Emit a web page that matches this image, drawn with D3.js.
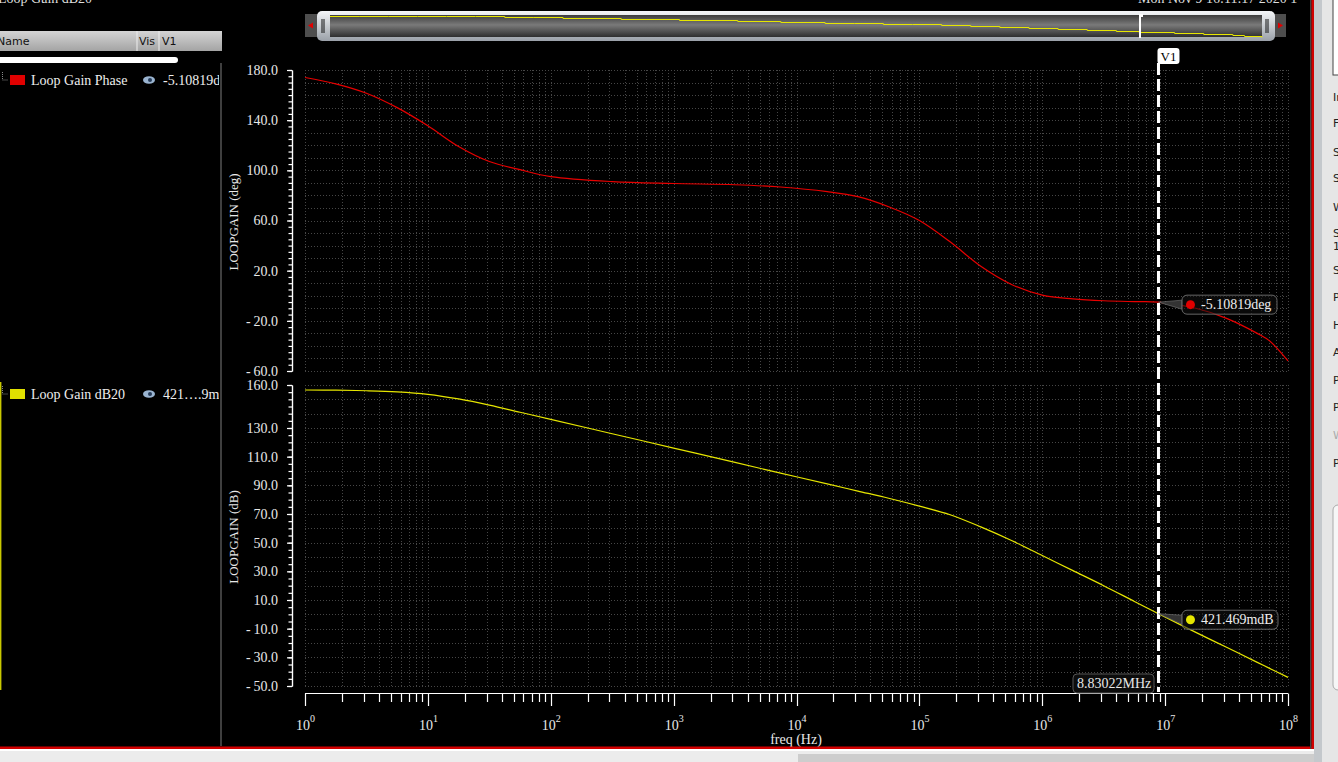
<!DOCTYPE html>
<html>
<head>
<meta charset="utf-8">
<script src="https://cdn.jsdelivr.net/npm/d3@7"></script>
<style>
  body { margin: 0; background: #000; overflow: hidden; }
  text { font-family: "Liberation Serif", "DejaVu Serif", serif; }
</style>
</head>
<body>
<div id="chart"></div>
<script>
var width = 1338,
    height = 762;

// values
var freqHz = [1, 1.778, 3.162, 5.623, 10, 17.78, 31.62, 56.23, 100, 316.2, 1000, 3162, 7413,
  17780, 31620, 56230, 1e5, 1.778e5, 3.162e5, 5.623e5, 1e6, 1.778e6, 3.162e6, 5.623e6,
  8.83022e6, 1.778e7, 3.162e7, 5.623e7, 7.079e7, 1e8];
var phaseDeg = [174, 169, 161.5, 150, 135.5, 119, 107, 100.5, 95, 91, 89.5, 88.5, 86.7,
  83, 79, 71, 60, 43, 23.5, 9, 0.5, -2.5, -4, -4.7, -5.1, -10, -18, -30, -36, -52];
var gainDb = [156.5, 156.4, 156, 155.2, 153.5, 150.3, 146, 141, 136, 126, 116, 106, 98.5,
  91, 86, 81, 75.5, 69.5, 61, 51.5, 41, 30.5, 20, 9, 0.42, -12.6, -23, -33.5, -37.7, -44];

var phaseTicks = [180, 140, 100, 60, 20, -20, -60];
var gainTicks = [160, 130, 110, 90, 70, 50, 30, 10, -10, -30, -50];
var decades = [0, 1, 2, 3, 4, 5, 6, 7, 8];

var cursorFreq = 8.83022e6,
    cursorLabel = "8.83022MHz",
    phaseAtCursor = -5.10819,
    gainAtCursor = 0.421469,
    phaseReadout = "-5.10819deg",
    gainReadout = "421.469mdB";

var sideRows = [["In", 97], ["F", 123], ["S", 152], ["S", 178], ["W", 207], ["S", 233], ["1", 246],
  ["S", 270], ["P", 297], ["H", 325], ["A", 352], ["P", 380], ["P", 407], ["W", 435], ["P", 463]];

var svg = d3.select("#chart").append("svg")
    .attr("width", width)
    .attr("height", height);

svg.append("rect").attr("width", width).attr("height", height).attr("fill", "#000");

var defs = svg.append("defs");
var g1 = defs.append("linearGradient").attr("id", "hdr").attr("x1", 0).attr("x2", 0).attr("y1", 0).attr("y2", 1);
g1.append("stop").attr("offset", "0%").attr("stop-color", "#d4d4d4");
g1.append("stop").attr("offset", "100%").attr("stop-color", "#a4a4a4");
var g2 = defs.append("linearGradient").attr("id", "scr").attr("x1", 0).attr("x2", 0).attr("y1", 0).attr("y2", 1);
g2.append("stop").attr("offset", "0%").attr("stop-color", "#3c3c3c");
g2.append("stop").attr("offset", "45%").attr("stop-color", "#7a7a7a");
g2.append("stop").attr("offset", "100%").attr("stop-color", "#2e2e2e");
var g3 = defs.append("linearGradient").attr("id", "frm").attr("x1", 0).attr("x2", 0).attr("y1", 0).attr("y2", 1);
g3.append("stop").attr("offset", "0%").attr("stop-color", "#f4f6f8");
g3.append("stop").attr("offset", "100%").attr("stop-color", "#9aa0a8");

var x = d3.scaleLog().domain([1, 1e8]).range([305, 1288]);
var yPhase = d3.scaleLinear().domain([-60, 180]).range([371, 70]);
var yGain = d3.scaleLinear().domain([-50, 160]).range([686, 385]);

// ---- left legend panel
svg.append("text").attr("x", -2).attr("y", 3).attr("fill", "#ddd").style("font-size", "14px").text("Loop Gain dB20");
svg.append("rect").attr("x", 0).attr("y", 31).attr("width", 222).attr("height", 20).attr("fill", "url(#hdr)");
[137, 159].forEach(function(s) {
  svg.append("line").attr("x1", s).attr("x2", s).attr("y1", 31).attr("y2", 51).attr("stroke", "#eee");
});
var hdr = svg.append("g").style("font-size", "11px").attr("fill", "#111");
hdr.append("text").attr("x", -3).attr("y", 45).style("font-family", "DejaVu Sans").text("Name");
hdr.append("text").attr("x", 139).attr("y", 45).style("font-family", "DejaVu Sans").text("Vis");
hdr.append("text").attr("x", 162).attr("y", 45).style("font-family", "DejaVu Sans").text("V1");
svg.append("rect").attr("x", -4).attr("y", 57).attr("width", 182).attr("height", 6).attr("rx", 3).attr("fill", "#fff");
svg.append("line").attr("x1", 221).attr("x2", 221).attr("y1", 63).attr("y2", 746).attr("stroke", "#555").attr("stroke-width", 1.5);
svg.append("line").attr("x1", 0.7).attr("x2", 0.7).attr("y1", 382).attr("y2", 690).attr("stroke", "#c8c800").attr("stroke-width", 1.4);

var legendRows = [
  { name: "Loop Gain Phase", color: "#e00000", val: "-5.10819deg", y: 80 },
  { name: "Loop Gain dB20", color: "#e0e000", val: "421\u2026.9mdB", y: 394 }
];
var clipL = defs.append("clipPath").attr("id", "clipL");
clipL.append("rect").attr("x", 0).attr("y", 0).attr("width", 219).attr("height", 762);
var rows = svg.append("g").attr("clip-path", "url(#clipL)").selectAll("g").data(legendRows).enter().append("g");
rows.append("path")
    .attr("d", function(d) { return "M2.5," + (d.y - 8) + "V" + (d.y) + "H8"; })
    .attr("fill", "none").attr("stroke", "#888").attr("stroke-dasharray", "1,1");
rows.append("rect").attr("x", 10).attr("y", function(d) { return d.y - 5; })
    .attr("width", 15).attr("height", 10).attr("fill", function(d) { return d.color; });
rows.append("text").attr("x", 31).attr("y", function(d) { return d.y + 5; })
    .attr("fill", "#eee").style("font-size", "14px").text(function(d) { return d.name; });
rows.append("ellipse").attr("cx", 149).attr("cy", function(d) { return d.y; })
    .attr("rx", 6).attr("ry", 3.8).attr("fill", "#9ab4d0");
rows.append("circle").attr("cx", 150).attr("cy", function(d) { return d.y; }).attr("r", 2).attr("fill", "#243a58");
rows.append("text").attr("x", 163).attr("y", function(d) { return d.y + 5; })
    .attr("fill", "#eee").style("font-size", "14px").text(function(d) { return d.val; });

// ---- top scrollbar
svg.append("text").attr("x", 1138).attr("y", 3).attr("fill", "#ddd").style("font-size", "14px").text("Mon Nov 9 16:11:17 2020  1");
svg.append("rect").attr("x", 305).attr("y", 14).attr("width", 14).attr("height", 23).attr("fill", "#4e4e4e");
svg.append("path").attr("d", "M308,25.5L313,22.5V28.5Z").attr("fill", "#e00000");
svg.append("rect").attr("x", 1272).attr("y", 14).attr("width", 14).attr("height", 23).attr("fill", "#4e4e4e");
svg.append("path").attr("d", "M1283,25.5L1278,22.5V28.5Z").attr("fill", "#e00000");
svg.append("rect").attr("x", 317).attr("y", 11).attr("width", 958).attr("height", 30).attr("rx", 5).attr("fill", "url(#frm)");
svg.append("rect").attr("x", 330).attr("y", 15).attr("width", 932).attr("height", 22).attr("fill", "url(#scr)");
[[322, 324], [1266, 1268]].forEach(function(p) {
  p.forEach(function(px) {
    svg.append("line").attr("x1", px).attr("x2", px).attr("y1", 19).attr("y2", 33).attr("stroke", "#111").attr("stroke-width", 1);
  });
});
var xs = d3.scaleLog().domain([1, 1e8]).range([330, 1262]);
var ys = d3.scaleLinear().domain([-44, 157]).range([36.5, 15.7]);
svg.append("path")
    .datum(freqHz)
    .attr("d", d3.line().curve(d3.curveStepAfter)
      .x(function(d) { return xs(d); })
      .y(function(d, i) { return Math.round(ys(gainDb[i])) + 0.5; }))
    .attr("fill", "none").attr("stroke", "#e6e600").attr("stroke-width", 1);
svg.append("line").attr("x1", 1140).attr("x2", 1140).attr("y1", 15).attr("y2", 38).attr("stroke", "#fff").attr("stroke-width", 2);
svg.append("rect").attr("x", 1139).attr("y", 14).attr("width", 4).attr("height", 3).attr("fill", "#fff");

// ---- grids
function drawGrid(yScale, lo, hi, step) {
  var g = svg.append("g").attr("stroke", "#464646").attr("stroke-dasharray", "1,2").attr("stroke-width", 1);
  var vals = d3.range(lo, hi + 0.01, step);
  g.selectAll(".h").data(vals).enter().append("line")
      .attr("x1", 305).attr("x2", 1288)
      .attr("y1", function(d) { return Math.round(yScale(d)) + 0.5; })
      .attr("y2", function(d) { return Math.round(yScale(d)) + 0.5; });
  var vx = [];
  decades.forEach(function(dk) {
    for (var m = 1; m < 10; m++) { if (dk < 8 || m == 1) vx.push(m * Math.pow(10, dk)); }
  });
  g.selectAll(".v").data(vx).enter().append("line")
      .attr("y1", yScale.range()[1]).attr("y2", yScale.range()[0])
      .attr("x1", function(d) { return Math.round(x(d)) + 0.5; })
      .attr("x2", function(d) { return Math.round(x(d)) + 0.5; });
}
drawGrid(yPhase, -60, 180, 10);
drawGrid(yGain, -50, 160, 10);

// ---- y axes
function fmt(d) { return d < 0 ? "-\u2009" + (-d).toFixed(1) : d.toFixed(1); }
function drawYAxis(yScale, lo, hi, majors, title, cy) {
  var minor = svg.append("g").attr("transform", "translate(292,0)")
      .call(d3.axisLeft(yScale).tickValues(d3.range(lo, hi + 0.01, 5)).tickSize(3.5).tickSizeOuter(0).tickFormat(""));
  var major = svg.append("g").attr("transform", "translate(292,0)")
      .call(d3.axisLeft(yScale).tickValues(majors).tickSize(5).tickSizeOuter(0).tickPadding(9).tickFormat(fmt));
  [minor, major].forEach(function(a) {
    a.selectAll("path, line").attr("stroke", "#fff").attr("stroke-width", 1.2);
  });
  major.selectAll("text").attr("fill", "#e8e8e8")
      .style("font-family", "Liberation Serif, serif").style("font-size", "14px");
  svg.append("text").attr("transform", "translate(238," + cy + ")rotate(-90)")
      .attr("text-anchor", "middle").attr("fill", "#e8e8e8").style("font-size", "13px").text(title);
}
drawYAxis(yPhase, -60, 180, phaseTicks, "LOOPGAIN (deg)", 222);
drawYAxis(yGain, -50, 160, gainTicks, "LOOPGAIN (dB)", 537);

// ---- x axis
var xa = svg.append("g").attr("stroke", "#fff").attr("stroke-width", 1.2);
xa.append("line").attr("x1", 305).attr("x2", 1288).attr("y1", 693.5).attr("y2", 693.5);
decades.forEach(function(dk) {
  for (var m = 1; m < 10; m++) {
    if (dk == 8 && m > 1) break;
    var px = Math.round(x(m * Math.pow(10, dk))) + 0.5;
    xa.append("line").attr("x1", px).attr("x2", px).attr("y1", 693.5).attr("y2", m == 1 ? 706 : 702);
  }
});
var xl = svg.append("g").selectAll("text").data(decades).enter().append("text")
    .attr("x", function(d) { return x(Math.pow(10, d)) - 9; })
    .attr("y", 730).attr("fill", "#e8e8e8").style("font-size", "14px");
xl.append("tspan").text("10");
xl.append("tspan").attr("dy", -8).style("font-size", "10px").text(function(d) { return d; });
svg.append("text").attr("x", 796).attr("y", 744).attr("text-anchor", "middle")
    .attr("fill", "#e8e8e8").style("font-size", "14px").text("freq (Hz)");

// ---- curves
var line = d3.line().curve(d3.curveCatmullRom.alpha(0.5)).x(function(d) { return x(d[0]); }).y(function(d) { return d[1]; });
svg.append("path")
    .datum(freqHz.map(function(f, i) { return [f, yPhase(phaseDeg[i])]; }))
    .attr("d", line).attr("fill", "none").attr("stroke", "#e80000").attr("stroke-width", 1.2);
svg.append("path")
    .datum(freqHz.map(function(f, i) { return [f, yGain(gainDb[i])]; }))
    .attr("d", line).attr("fill", "none").attr("stroke", "#e6e600").attr("stroke-width", 1.2);

// ---- cursor V1
var cx = x(cursorFreq);
svg.append("line").attr("x1", cx).attr("x2", cx).attr("y1", 63).attr("y2", 692)
    .attr("stroke", "#fff").attr("stroke-width", 3).attr("stroke-dasharray", "12,4");
svg.append("rect").attr("x", cx - 1).attr("y", 48).attr("width", 22).attr("height", 16).attr("rx", 3).attr("fill", "#fff");
svg.append("text").attr("x", cx + 10).attr("y", 61).attr("text-anchor", "middle").attr("fill", "#000")
    .style("font-size", "13px").text("V1");
svg.append("rect").attr("x", 1073).attr("y", 674).attr("width", 81).attr("height", 19).attr("rx", 4)
    .attr("fill", "#0c0c0c").attr("stroke", "#555");
svg.append("text").attr("x", 1077).attr("y", 688).attr("fill", "#e8e8e8").style("font-size", "14px").text(cursorLabel);

var readouts = [
  { y: yPhase(phaseAtCursor), top: yPhase(phaseAtCursor) - 7, color: "#e00000", text: phaseReadout, w: 95 },
  { y: yGain(gainAtCursor), top: yGain(gainAtCursor) - 3.5, color: "#e6e600", text: gainReadout, w: 96 }
];
readouts.forEach(function(r) {
  var bx = cx + 23.5;
  svg.append("path")
      .attr("d", "M" + cx + "," + r.y + "L" + bx + "," + (r.top + 5) + "L" + bx + "," + (r.top + 14) + "Z")
      .attr("fill", "#333").attr("stroke", "#777").attr("stroke-width", 0.6);
  svg.append("rect").attr("x", bx).attr("y", r.top).attr("width", r.w).attr("height", 19).attr("rx", 5)
      .attr("fill", "rgba(16,16,16,0.55)").attr("stroke", "#666");
  svg.append("circle").attr("cx", bx + 8.5).attr("cy", r.top + 9.5).attr("r", 4.5).attr("fill", r.color);
  svg.append("text").attr("x", bx + 19).attr("y", r.top + 14).attr("fill", "#eee").style("font-size", "14px").text(r.text);
});

// ---- window frame and right panel
svg.append("rect").attr("x", 0).attr("y", 746.5).attr("width", 1316).attr("height", 2.5).attr("fill", "#d00000");
svg.append("rect").attr("x", 0).attr("y", 749).attr("width", width).attr("height", 13).attr("fill", "#ececec");
svg.append("rect").attr("x", 0).attr("y", 749).attr("width", 1316).attr("height", 2).attr("fill", "#fff");
svg.append("rect").attr("x", 798).attr("y", 754).attr("width", 540).attr("height", 8).attr("fill", "#cdcdcd");
svg.append("rect").attr("x", 1310).attr("y", 0).attr("width", 1.5).attr("height", 749).attr("fill", "#444");
svg.append("rect").attr("x", 1311.5).attr("y", 0).attr("width", 2.5).attr("height", 749).attr("fill", "#d00000");
svg.append("rect").attr("x", 1314).attr("y", 0).attr("width", 8).attr("height", 762).attr("fill", "#c4c8cc");
svg.append("rect").attr("x", 1322).attr("y", 0).attr("width", 16).attr("height", 762).attr("fill", "#e6e6e6");
svg.append("rect").attr("x", 1333).attr("y", -3).attr("width", 10).attr("height", 78).attr("fill", "#fff").attr("stroke", "#444");
svg.append("rect").attr("x", 1333).attr("y", 505).attr("width", 12).attr("height", 185).attr("rx", 5).attr("fill", "#f6f6f6").attr("stroke", "#aaa");
svg.selectAll(".side").data(sideRows).enter().append("text")
    .attr("x", 1333).attr("y", function(d) { return d[1] + 4; })
    .attr("fill", function(d, i) { return i == 13 ? "#aaa" : "#222"; })
    .style("font-family", "DejaVu Sans, sans-serif").style("font-size", "11px")
    .text(function(d) { return d[0]; });
</script>
</body>
</html>
